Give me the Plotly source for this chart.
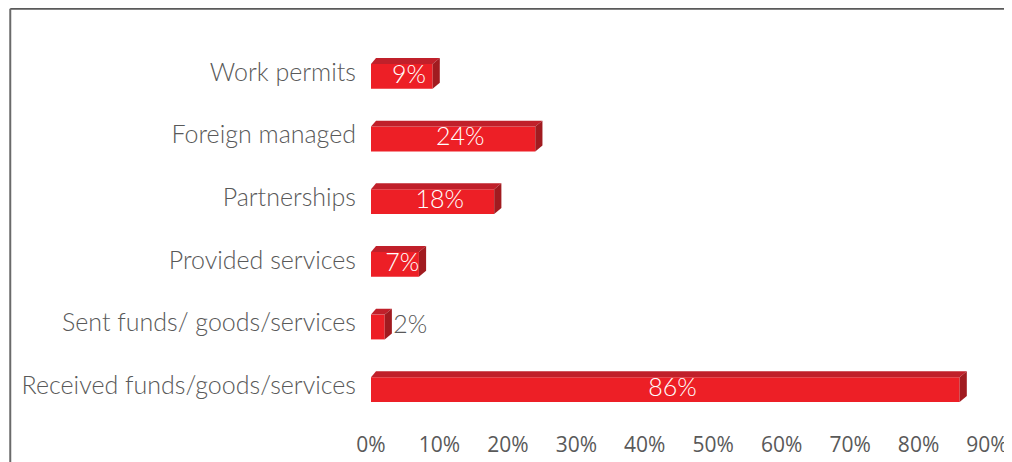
import plotly.graph_objects as go

categories = ["Received funds/goods/services", "Sent funds/ goods/services",
              "Provided services", "Partnerships", "Foreign managed", "Work permits"]
values = [86, 2, 7, 18, 24, 9]
x_ticks = [0, 10, 20, 30, 40, 50, 60, 70, 80, 90]
x_tick_labels = [f"{v}%" for v in x_ticks]

FRONT = "#ED1F26"
TOP = "#C0202A"
SIDE = "#A11B20"
GRAY = "#595959"
FONT = "Lato"

BAR_W = 0.396
DX = 1.05   # depth in x data units
DY = 0.095  # depth in y data units
LABEL_SHIFT = 0.07

ypos = list(range(len(categories)))

fig = go.Figure()
fig.add_trace(go.Bar(
    x=values, y=ypos, orientation="h", width=BAR_W,
    marker=dict(color=FRONT, line=dict(width=0)),
    hoverinfo="skip", showlegend=False,
))

shapes = []
for y, v in zip(ypos, values):
    y0, y1 = y - BAR_W / 2, y + BAR_W / 2
    shapes.append(dict(
        type="path", xref="x", yref="y",
        path=f"M 0,{y1} L {DX*0.7},{y1+DY} L {v+DX},{y1+DY} L {v},{y1} Z",
        fillcolor=TOP, line=dict(width=0), layer="above"))
    shapes.append(dict(
        type="path", xref="x", yref="y",
        path=f"M {v},{y0} L {v+DX},{y0+DY} L {v+DX},{y1+DY} L {v},{y1} Z",
        fillcolor=SIDE, line=dict(width=0), layer="above"))

L, R, T, B = 363, 30, 37, 46
W, H = 1012, 462
pw, ph = W - L - R, H - T - B
fx = (0.5 - L) / pw
fy = 1 + (T - 0.5) / ph
shapes.append(dict(type="line", xref="paper", yref="paper",
                   x0=fx, x1=1.2, y0=fy, y1=fy,
                   line=dict(color="#5a5a5a", width=2)))
shapes.append(dict(type="line", xref="paper", yref="paper",
                   x0=fx, x1=fx, y0=fy, y1=-0.3,
                   line=dict(color="#6a6a6a", width=2)))

in_x, in_y, in_t = [], [], []
out_x, out_y, out_t = [], [], []
for y, v in zip(ypos, values):
    if v >= 5:
        in_x.append(v / 2 + DX); in_y.append(y); in_t.append(f"{v}%")
    else:
        out_x.append(v + DX + 0.2); out_y.append(y); out_t.append(f"{v}%")

fig.add_trace(go.Scatter(x=in_x, y=in_y, text=in_t, mode="text",
                         textposition="middle center",
                         textfont=dict(family=FONT, size=25, color="white", weight=300),
                         hoverinfo="skip", showlegend=False))
fig.add_trace(go.Scatter(x=out_x, y=out_y, text=out_t, mode="text",
                         textposition="middle right",
                         textfont=dict(family=FONT, size=25, color=GRAY, weight=300),
                         hoverinfo="skip", showlegend=False))

fig.update_layout(
    width=W, height=H,
    margin=dict(l=L, r=R, t=T, b=B),
    paper_bgcolor="white", plot_bgcolor="white",
    shapes=shapes,
    xaxis=dict(range=[0, 90], tickvals=x_ticks, ticktext=x_tick_labels,
               showgrid=False, zeroline=False, showline=False,
               tickfont=dict(family="Open Sans", size=21, color=GRAY),
               ticks="outside", ticklen=5, tickcolor="rgba(0,0,0,0)",
               fixedrange=True),
    yaxis=dict(range=[-0.5, 5.5], tickvals=[p + LABEL_SHIFT for p in ypos],
               ticktext=categories,
               showgrid=False, zeroline=False, showline=False,
               tickfont=dict(family=FONT, size=25, color=GRAY, weight=300),
               ticks="outside", ticklen=9, tickcolor="rgba(0,0,0,0)",
               fixedrange=True),
)

fig.write_html("out.html")
